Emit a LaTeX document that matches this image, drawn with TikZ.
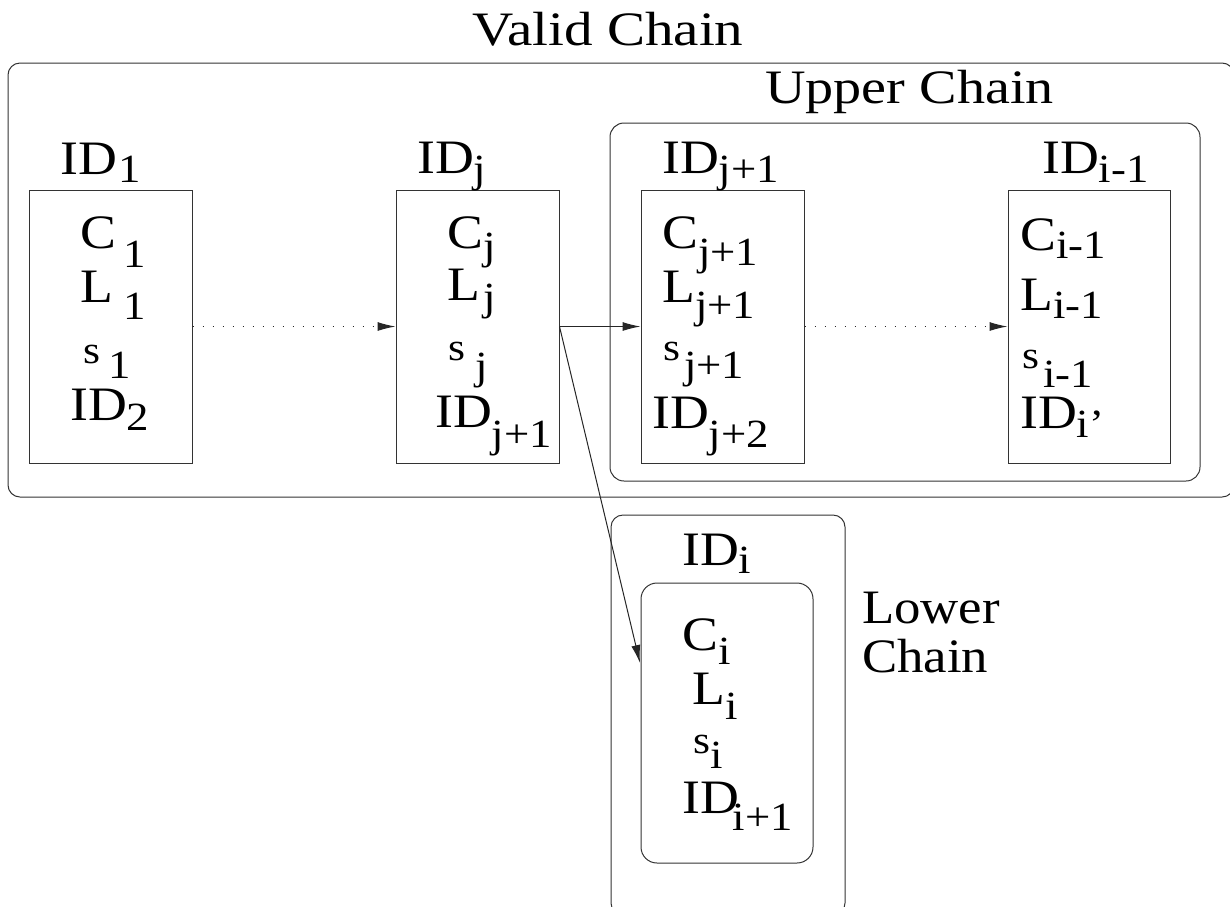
\documentclass[tikz,border=0pt]{standalone}
\usepackage{fontspec}
\setmainfont[FakeStretch=1.12]{Liberation Serif}
\newfontfamily\titlefont[FakeStretch=1.19]{Liberation Serif}
\newfontfamily\uppertitlefont[FakeStretch=1.17]{Liberation Serif}
\newfontfamily\lowertitlefont[FakeStretch=1.10]{Liberation Serif}
\usetikzlibrary{arrows.meta}
% lowered index in a smaller size: #1 = drop in pt, #2 = text
\newcommand\lowsub[2]{\raisebox{-#1pt}{\fontsize{40}{40}\selectfont #2}}
\newcommand\smalls{{\fontsize{39}{39}\selectfont s}}

\begin{document}
\begin{tikzpicture}[x=1pt,y=-1pt,
  frame/.style={draw=black!80, line width=1pt, inner sep=0pt},
  cell/.style={draw=black!80, line width=1pt, minimum width=163pt,
               minimum height=273pt, inner sep=0pt},
  lbl/.style={anchor=base west, inner sep=0pt, font=\fontsize{48}{52}\selectfont},
  link/.style={-{Latex[length=18pt,width=9pt]}, line width=1pt, draw=black!85},
  dotlink/.style={link, dash pattern=on 1.5pt off 8.5pt}]
\useasboundingbox (0,0) rectangle (1230,906);
\clip (0,0) rectangle (1230,906);

% chains
\node[frame, rounded corners=12pt, minimum width=1226pt, minimum height=434pt] (valid) at (621,280) {};
\node[frame, rounded corners=14pt, minimum width=590pt, minimum height=358pt] (upper) at (905,302) {};
\node[frame, rounded corners=12pt, minimum width=234pt, minimum height=400pt] (lowout) at (728,715) {};
\node[frame, rounded corners=16pt, minimum width=172pt, minimum height=280pt] (lowin) at (727,723) {};

% identity blocks
\node[cell] (b1)  at (110.5,326.5) {};
\node[cell] (bj)  at (477.5,326.5) {};
\node[cell] (bj1) at (722.5,326.5) {};
\node[cell, minimum width=162pt] (bi1) at (1089,326.5) {};

% links between blocks
\draw[dotlink] (b1.east) -- (bj.west);
\draw[link] (bj.east) -- (bj1.west);
\draw[dotlink] (bj1.east) -- (bi1.west);
\coordinate (entry) at (640,663);
\draw[link] (bj.east) -- (entry);

% titles
\node[lbl] (tvalid) at (472,45) {\titlefont Valid Chain};
\node[lbl] (tupper) at (765,103) {\uppertitlefont Upper Chain};
\node[lbl] (tlow1) at (862,623) {\lowertitlefont Lower};
\node[lbl] (tlow2) at (862,672) {\lowertitlefont Chain};

% block headers
\node[lbl] (h1)  at (60,174)   {ID\kern2pt\lowsub{8}{1}};
\node[lbl] (hj)  at (417,173)  {ID\lowsub{9}{j}};
\node[lbl] (hj1) at (662,173)  {ID\lowsub{9}{j+1}};
\node[lbl] (hi1) at (1042,173) {ID\lowsub{9}{i-1}};
\node[lbl] (hi)  at (682,565)  {ID\lowsub{8}{i}};

% block 1
\node[lbl] (c1) at (80,248)  {C\kern7pt\lowsub{19}{1}};
\node[lbl] (l1) at (80,302)  {L\kern10pt\lowsub{17}{1}};
\node[lbl] (s1) at (83,363)  {\smalls\kern8pt\lowsub{15}{1}};
\node[lbl] (n1) at (70,420)  {ID\lowsub{10}{2}};

% block j
\node[lbl] (cj) at (447,248) {C\lowsub{11}{j}};
\node[lbl] (lj) at (447,300) {L\kern3pt\lowsub{10}{j}};
\node[lbl] (sj) at (448,360) {\smalls\kern10pt\lowsub{19}{j}};
\node[lbl] (nj) at (435,427) {ID\lowsub{20}{j+1}};

% block j+1
\node[lbl] (cj1) at (662,248) {C\lowsub{17}{j+1}};
\node[lbl] (lj1) at (662,302) {L\lowsub{16}{j+1}};
\node[lbl] (sj1) at (663,360) {\smalls\kern4pt\lowsub{18}{j+1}};
\node[lbl] (nj1) at (652,428) {ID\lowsub{19}{j+2}};

% block i-1
\node[lbl] (ci1) at (1020,250) {C\lowsub{8}{i-1}};
\node[lbl] (li1) at (1020,310) {L\lowsub{8}{i-1}};
\node[lbl] (si1) at (1022,368) {\smalls\kern4pt\lowsub{19}{i-1}};
\node[lbl] (ni1) at (1020,428) {ID\lowsub{9}{i’}};

% block i
\node[lbl] (ci) at (682,650) {C\lowsub{14}{i}};
\node[lbl] (li) at (692,704) {L\lowsub{15}{i}};
\node[lbl] (si) at (693,753) {\smalls\lowsub{15}{i}};
\node[lbl] (ni) at (682,813) {ID\kern-6pt\lowsub{17}{i+1}};
\end{tikzpicture}
\end{document}
